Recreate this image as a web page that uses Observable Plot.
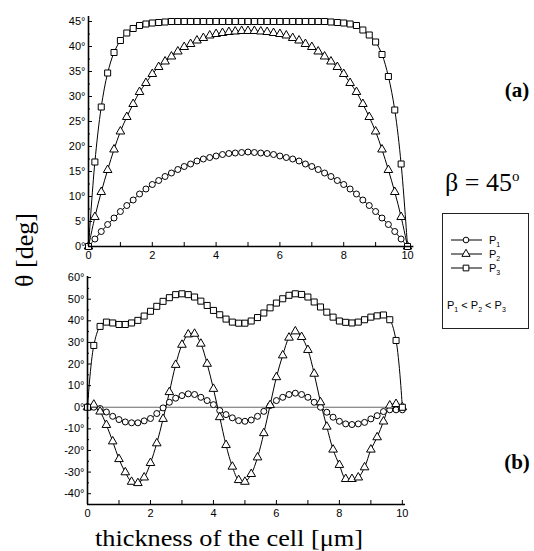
<!DOCTYPE html>
<html><head><meta charset="utf-8">
<script src="https://cdn.jsdelivr.net/npm/d3@7"></script>
<script src="https://cdn.jsdelivr.net/npm/@observablehq/plot@0.6"></script>
<style>
body{margin:0;background:#fff;}
#wrap{position:relative;width:534px;height:551px;overflow:hidden;background:#fff;}
#wrap svg{position:absolute;left:0;}
</style></head><body><div id="wrap"></div>
<script>
// x positions (cell thickness, µm)
const thickness = [0,0.2,0.4,0.6,0.8,1,1.2,1.4,1.6,1.8,2,2.2,2.4,2.6,2.8,3,3.2,3.4,3.6,3.8,4,4.2,4.4,4.6,4.8,5,5.2,5.4,5.6,5.8,6,6.2,6.4,6.6,6.8,7,7.2,7.4,7.6,7.8,8,8.2,8.4,8.6,8.8,9,9.2,9.4,9.6,9.8,10];
// panel (a)
const topP1 = [0,1.5,3.0,4.4,5.7,7.0,8.2,9.3,10.5,11.5,12.4,13.2,14.0,14.7,15.4,16.0,16.5,17.1,17.5,17.8,18.1,18.4,18.6,18.7,18.8,18.9,18.8,18.7,18.6,18.4,18.1,17.8,17.5,17.1,16.5,16.0,15.4,14.7,14.0,13.2,12.4,11.5,10.5,9.3,8.2,7.0,5.7,4.4,3.0,1.5,0];
const topP2 = [0,5.9,10.9,15.3,19.4,23.0,25.9,28.5,30.9,32.7,34.5,35.9,37.0,38.0,39.0,39.9,40.5,41.2,41.7,42.2,42.5,42.7,42.9,43.0,43.1,43.1,43.1,43.0,42.9,42.7,42.5,42.2,41.7,41.2,40.5,39.9,39.0,38.0,37.0,35.9,34.5,32.7,30.9,28.5,25.9,23.0,19.4,15.3,10.9,5.9,0];
const topP3 = [0,16.9,27.9,34.7,38.8,41.2,42.7,43.6,44.2,44.5,44.7,44.8,44.9,45,45,45,45,45,45,45,45,45,45,45,45,45,45,45,45,45,45,45,45,45,45,45,45,45,44.9,44.8,44.7,44.5,44.2,43.3,42.3,40.9,38.4,34.0,27.3,16.5,0];
// panel (b)
const botP1 = [0,0,-0.6,-2.2,-4.2,-5.7,-6.8,-7.2,-7.2,-6.3,-5.2,-2.9,-0.3,2.3,4.2,5.4,6.2,5.9,4.6,3.1,1.2,-1.5,-3.4,-4.9,-6.2,-6.5,-5.9,-4.2,-1.9,0.8,3.1,4.6,5.9,6.5,5.9,4.6,2.3,0,-2.3,-4.6,-6.5,-7.7,-8,-7.7,-7,-5.4,-3.9,-2,-1.2,-1.2,-1.2];
const botP2 = [0,1.2,-2,-8.2,-15.8,-24,-30.1,-34.5,-35.1,-32.5,-25.8,-16.7,-5.4,7,19.6,28.9,33.7,34,29.4,20.1,8.5,-4.6,-17.5,-27.5,-33.7,-34.5,-30.9,-23.2,-12,1,13.9,24,32.2,35.1,32.5,26.5,15.5,2.3,-9,-19.6,-26.7,-33.2,-33.2,-32.5,-27.8,-19.6,-13.9,-6.6,0.8,1.5,0];
const botP3 = [0,28.6,37.4,39.4,39,38.3,38.3,39,40.2,42.2,44.4,46.7,49,50.7,52.1,52.5,52.1,51,49.1,47.1,44.8,42.8,40.8,39.4,38.9,38.9,39.9,41.5,43.6,46,48.2,50.2,51.8,52.5,52.2,51,48.7,46.4,44,41.7,39.9,39.3,39,39.4,40.5,41.7,42.3,42.7,40.5,30.9,0];

const seriesNames = ["P1","P2","P3"];
const seriesSymbols = ["circle","triangle","square"];
const seriesR = [3,3.2,3.4];
const xTickLabels = [0,2,4,6,8,10];
const xTickMarks = [0,1,2,3,4,5,6,7,8,9,10];
const topYTicks = [0,5,10,15,20,25,30,35,40,45];
const topYMinor = [2.5,7.5,12.5,17.5,22.5,27.5,32.5,37.5,42.5];
const botYTicks = [-40,-30,-20,-10,0,10,20,30,40,50,60];
const botYMinor = [-35,-25,-15,-5,5,15,25,35,45,55];

const FONT = "'Liberation Sans', Arial, sans-serif";
const SERIF = "'Liberation Serif', 'Times New Roman', serif";
const deg = d => d + "°";

function seriesMarks(arrs) {
  const marks = [];
  arrs.forEach((arr, k) => {
    const rows = thickness.map((x, i) => ({x, y: arr[i]}));
    marks.push(Plot.line(rows, {x: "x", y: "y", stroke: "black", strokeWidth: 1, curve: "catmull-rom"}));
  });
  arrs.forEach((arr, k) => {
    const rows = thickness.map((x, i) => ({x, y: arr[i]}));
    marks.push(Plot.dot(rows, {x: "x", y: "y", symbol: seriesSymbols[k], r: seriesR[k], fill: "white", stroke: "black", strokeWidth: 1}));
  });
  return marks;
}

const wrap = document.getElementById("wrap");

// Panel (a)
const topPlot = Plot.plot({
  width: 534, height: 270,
  marginLeft: 88, marginRight: 120.6, marginTop: 16, marginBottom: 24,
  style: {background: "transparent", fontFamily: FONT, fontSize: "11px", color: "#000", overflow: "visible"},
  x: {domain: [0, 10.2], label: null},
  y: {domain: [0, 46], label: null},
  marks: [
    Plot.axisX({ticks: xTickLabels, tickSize: 0, tickPadding: 5, label: null}),
    Plot.axisX({ticks: xTickMarks, tickSize: -4, tickFormat: () => "", label: null}),
    Plot.axisY({ticks: topYTicks, tickSize: 0, tickPadding: 3, tickFormat: deg, label: null}),
    Plot.axisY({ticks: topYTicks, tickSize: -4, tickFormat: () => "", label: null}),
    Plot.axisY({ticks: topYMinor, tickSize: -2, tickFormat: () => "", label: null}),
    ...seriesMarks([topP1, topP2, topP3]),
    Plot.ruleX([0], {stroke: "black", strokeWidth: 1.6}),
    Plot.ruleY([0], {stroke: "black", strokeWidth: 1.6})
  ]
});
topPlot.style.top = "0px";
wrap.appendChild(topPlot);

// Panel (b)
const botPlot = Plot.plot({
  width: 534, height: 289,
  marginLeft: 87, marginRight: 534 - 405, marginTop: 14, marginBottom: 47,
  style: {background: "transparent", fontFamily: FONT, fontSize: "11px", color: "#000", overflow: "visible"},
  x: {domain: [0, 10.1], label: null},
  y: {domain: [-45, 60.5], label: null},
  marks: [
    Plot.ruleY([0], {x1: 0, x2: 10, stroke: "#666", strokeWidth: 1}),
    Plot.axisX({ticks: xTickLabels, tickSize: 0, tickPadding: 5, label: null}),
    Plot.axisX({ticks: xTickMarks, tickSize: -4, tickFormat: () => "", label: null}),
    Plot.axisY({ticks: botYTicks, tickSize: 0, tickPadding: 3, tickFormat: deg, label: null}),
    Plot.axisY({ticks: botYTicks, tickSize: -4, tickFormat: () => "", label: null}),
    Plot.axisY({ticks: botYMinor, tickSize: -2, tickFormat: () => "", label: null}),
    ...seriesMarks([botP1, botP2, botP3]),
    Plot.ruleX([0], {stroke: "black", strokeWidth: 1.6}),
    Plot.ruleY([-45], {stroke: "black", strokeWidth: 1.6})
  ]
});
botPlot.style.top = "262px";
wrap.appendChild(botPlot);

// Annotations & legend
const ov = d3.select(wrap).append("svg")
  .attr("width", 534).attr("height", 551).style("top", "0px").style("overflow", "visible");

ov.append("text").attr("x", 517).attr("y", 97).attr("text-anchor", "middle")
  .style("font-family", SERIF).style("font-weight", "bold").style("font-size", "21px").text("(a)");
ov.append("text").attr("x", 517).attr("y", 469).attr("text-anchor", "middle")
  .style("font-family", SERIF).style("font-weight", "bold").style("font-size", "21px").text("(b)");

const beta = ov.append("text").attr("x", 445).attr("y", 191)
  .style("font-family", SERIF).style("font-size", "26px");
beta.append("tspan").text("β = 45");
beta.append("tspan").attr("dy", -10).style("font-size", "15px").text("o");

ov.append("text").attr("transform", "translate(33,250) rotate(-90)").attr("text-anchor", "middle")
  .style("font-family", SERIF).style("font-size", "25px")
  .attr("textLength", 74).attr("lengthAdjust", "spacingAndGlyphs").text("θ [deg]");

ov.append("text").attr("x", 229).attr("y", 546).attr("text-anchor", "middle")
  .style("font-family", SERIF).style("font-size", "23px")
  .attr("textLength", 268).attr("lengthAdjust", "spacingAndGlyphs").text("thickness of the cell [μm]");

// legend box
const lg = ov.append("g");
lg.append("rect").attr("x", 442.5).attr("y", 213.5).attr("width", 86).attr("height", 115)
  .attr("fill", "white").attr("stroke", "#222").attr("stroke-width", 1);
const legY = [240, 254, 268];
const symMap = {circle: d3.symbolCircle, triangle: d3.symbolTriangle, square: d3.symbolSquare};
seriesNames.forEach((name, k) => {
  const y = legY[k];
  lg.append("line").attr("x1", 451).attr("x2", 482).attr("y1", y).attr("y2", y).attr("stroke", "black").attr("stroke-width", 1);
  lg.append("path").attr("transform", `translate(466,${y})`)
    .attr("d", d3.symbol(symMap[seriesSymbols[k]], Math.PI * seriesR[k] * seriesR[k] * 0.9)())
    .attr("fill", "white").attr("stroke", "black").attr("stroke-width", 1);
  const t = lg.append("text").attr("x", 489).attr("y", y + 4).style("font-family", FONT).style("font-size", "11px");
  t.append("tspan").text("P");
  t.append("tspan").attr("dy", 3).style("font-size", "7px").text(name.slice(1));
});
const ineq = lg.append("text").attr("x", 447).attr("y", 309).style("font-family", FONT).style("font-size", "11px");
[["P","1"," < "],["P","2"," < "],["P","3",""]].forEach(([p, s, tail]) => {
  ineq.append("tspan").attr("dy", 0).text(p);
  ineq.append("tspan").attr("dy", 3).style("font-size", "7px").text(s);
  ineq.append("tspan").attr("dy", -3).text(tail);
});
</script></body></html>
